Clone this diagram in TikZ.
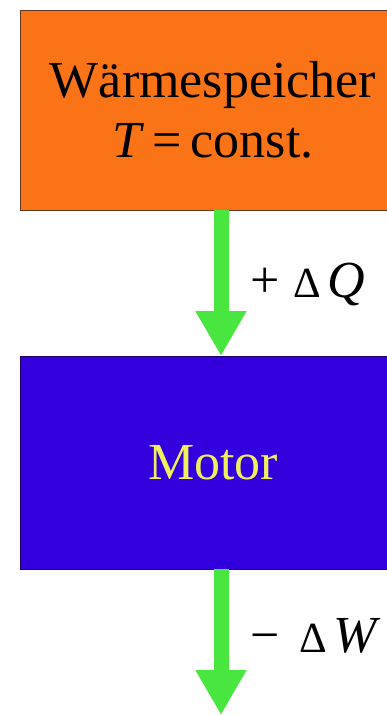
\documentclass[tikz,border=0pt]{standalone}
\usepackage{fontspec}
\setmainfont{Liberation Serif}
\usetikzlibrary{arrows.meta}
\definecolor{boxorange}{RGB}{250,115,22}
\definecolor{boxblue}{RGB}{51,0,221}
\definecolor{arrgreen}{RGB}{72,230,62}
\definecolor{txtyellow}{RGB}{240,240,95}
\newcommand{\smalldelta}{{\fontsize{43}{45}\selectfont Δ}}
\begin{document}
\begin{tikzpicture}[x=1pt,y=-1pt,
  bigbox/.style={rectangle, minimum width=386pt, inner sep=0pt, outer sep=0pt, line width=1pt, align=center, anchor=north west},
  flow/.style={draw=arrgreen, line width=15pt, -{Triangle[width=48pt,length=45pt]}},
  lbl/.style={anchor=base west, inner sep=0pt, font=\fontsize{52}{60}\selectfont}
  ]
\useasboundingbox (0,0) rectangle (387,715);
\clip (0,0) rectangle (387,715);
\fill[white] (0,0) rectangle (387,715);
\node[bigbox, fill=boxorange, draw={rgb,255:red,95;green,55;blue,30}, minimum height=200pt,
  font=\fontsize{52}{60}\selectfont] (speicher) at (20,10) {Wärmespeicher\\\textit{T}\,=\,const.};
\node[bigbox, fill=boxblue, draw={rgb,255:red,30;green,0;blue,110}, minimum height=213pt,
  text=txtyellow, font=\fontsize{52}{60}\selectfont] (motor) at (20,356) {Motor};
\coordinate (end) at (221,715);
\draw[flow] (speicher.south -| end) -- (motor.north -| end);
\draw[flow] (motor.south -| end) -- (end);
\node[lbl] (dq) at (250,297) {+\hspace{14pt}\smalldelta\hspace{6pt}\textit{Q}};
\node[lbl] (dw) at (250,652) {−\hspace{20pt}\smalldelta\hspace{6pt}\textit{W}};
\end{tikzpicture}
\end{document}
